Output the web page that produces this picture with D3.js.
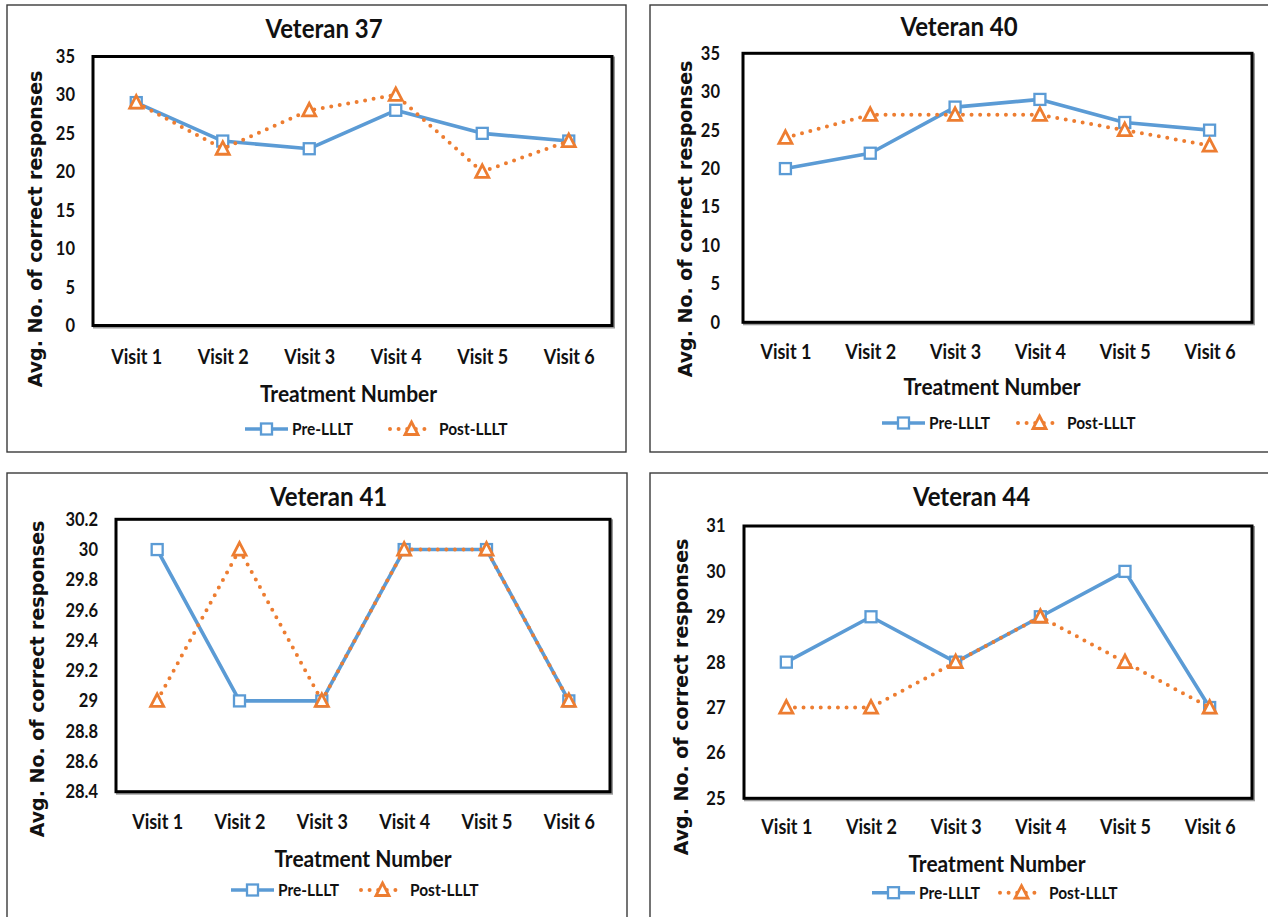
<!DOCTYPE html>
<html>
<head>
<meta charset="utf-8">
<script src="https://cdn.jsdelivr.net/npm/d3@7"></script>
<style>
  body { margin: 0; background: #fff; }
  svg { display: block; }
</style>
</head>
<body>
<svg id="chart" width="1268" height="917"></svg>
<script>
// ---- data ----
const visits = ["Visit 1", "Visit 2", "Visit 3", "Visit 4", "Visit 5", "Visit 6"];
const titles = ["Veteran 37", "Veteran 40", "Veteran 41", "Veteran 44"];
const seriesNames = ["Pre-LLLT", "Post-LLLT"];

const pre37  = [29, 24, 23, 28, 25, 24];
const post37 = [29, 23, 28, 30, 20, 24];
const pre40  = [20, 22, 28, 29, 26, 25];
const post40 = [24, 27, 27, 27, 25, 23];
const pre41  = [30, 29, 29, 30, 30, 29];
const post41 = [29, 30, 29, 30, 30, 29];
const pre44  = [28, 29, 28, 29, 30, 27];
const post44 = [27, 27, 28, 29, 28, 27];

const ticks37 = [0, 5, 10, 15, 20, 25, 30, 35];
const ticks40 = [0, 5, 10, 15, 20, 25, 30, 35];
const ticks41 = [28.4, 28.6, 28.8, 29, 29.2, 29.4, 29.6, 29.8, 30, 30.2];
const ticks44 = [25, 26, 27, 28, 29, 30, 31];

const xTitle = "Treatment Number";
const yTitle = "Avg. No. of correct responses";

// ---- styling ----
const BLUE = "#5B9BD5";
const ORANGE = "#ED7D31";
const INK = "#111";
const FONT = "Lato, 'Liberation Sans', sans-serif";
const YFONT = "'DejaVu Sans', Verdana, sans-serif";
const STRETCH = 1.13;   // slightly tall lettering for the labels

// ---- panel layout ----
const panels = [
  { title: titles[0], pre: pre37, post: post37, ticks: ticks37,
    frame: [7, 5, 619, 447], plot: { l: 93, t: 56.5, r: 612, b: 325.5 },
    titleX: 324, titleY: 28, tickPad: 18, xLabY: 356.7, xTitleX: 348.5, xTitleY: 393,
    yTitleX: 35, yTitleY: 229, legY: 429, legPre: 245, legPost: 390 },
  { title: titles[1], pre: pre40, post: post40, ticks: ticks40,
    frame: [650, 5, 640, 447], plot: { l: 743, t: 53.3, r: 1252, b: 322.3 },
    titleX: 959, titleY: 26.7, tickPad: 23, xLabY: 351.7, xTitleX: 992, xTitleY: 386.7,
    yTitleX: 685, yTitleY: 219, legY: 423, legPre: 882, legPost: 1018 },
  { title: titles[2], pre: pre41, post: post41, ticks: ticks41,
    frame: [7, 473, 620, 460], plot: { l: 116, t: 519.3, r: 610, b: 791.7 },
    titleX: 328.6, titleY: 496.7, tickPad: 18, xLabY: 821.7, xTitleX: 363, xTitleY: 858,
    yTitleX: 37, yTitleY: 679, legY: 890, legPre: 231, legPost: 361 },
  { title: titles[3], pre: pre44, post: post44, ticks: ticks44,
    frame: [650, 473, 640, 460], plot: { l: 744, t: 526, r: 1252, b: 798.3 },
    titleX: 971.5, titleY: 496.7, tickPad: 18.5, xLabY: 826.7, xTitleX: 997, xTitleY: 863,
    yTitleX: 681, yTitleY: 697, legY: 892.7, legPre: 872, legPost: 1000 }
];

const svg = d3.select("#chart");
const tickFmt = d3.format("~g");

// text centred vertically on (x, y), drawn a little taller than wide
function label(sel, x, y, str, size, anchor) {
  return sel.append("text")
    .attr("transform", `translate(${x},${y}) scale(1,${STRETCH})`)
    .attr("dy", "0.36em")
    .attr("text-anchor", anchor || "start")
    .attr("font-family", FONT).attr("font-weight", 700).attr("font-size", size)
    .attr("fill", INK).text(str);
}

function squareMarker(sel, cx, cy) {
  sel.append("rect")
    .attr("x", cx - 5.5).attr("y", cy - 5.5)
    .attr("width", 11).attr("height", 11)
    .attr("fill", "#fff").attr("stroke", BLUE).attr("stroke-width", 2.3);
}
function triangleMarker(sel, cx, cy) {
  sel.append("path")
    .attr("d", `M${cx},${cy - 7} L${cx + 6.5},${cy + 5.5} L${cx - 6.5},${cy + 5.5} Z`)
    .attr("fill", "#fff").attr("stroke", ORANGE).attr("stroke-width", 2.8)
    .attr("stroke-linejoin", "miter");
}

panels.forEach(p => {
  const g = svg.append("g");

  // outer chart frame
  g.append("rect")
    .attr("x", p.frame[0]).attr("y", p.frame[1])
    .attr("width", p.frame[2]).attr("height", p.frame[3])
    .attr("fill", "#fff").attr("stroke", "#3a3a3a").attr("stroke-width", 1.4);

  const x = d3.scalePoint().domain(visits).range([p.plot.l, p.plot.r]).padding(0.5);
  const y = d3.scaleLinear()
    .domain([p.ticks[0], p.ticks[p.ticks.length - 1]])
    .range([p.plot.b, p.plot.t]);

  // plot area border with soft shadow
  g.append("rect")
    .attr("x", p.plot.l + 1.5).attr("y", p.plot.t + 1.5)
    .attr("width", p.plot.r - p.plot.l).attr("height", p.plot.b - p.plot.t)
    .attr("fill", "none").attr("stroke", "#9a9a9a").attr("stroke-width", 3);
  g.append("rect")
    .attr("x", p.plot.l).attr("y", p.plot.t)
    .attr("width", p.plot.r - p.plot.l).attr("height", p.plot.b - p.plot.t)
    .attr("fill", "#fff").attr("stroke", "#000").attr("stroke-width", 3);

  // y axis tick labels
  const yAxis = g.append("g")
    .attr("transform", `translate(${p.plot.l},0)`)
    .call(d3.axisLeft(y).tickValues(p.ticks).tickSize(0).tickPadding(p.tickPad).tickFormat(tickFmt));
  yAxis.select(".domain").remove();
  yAxis.selectAll("text")
    .attr("transform", `scale(1,${STRETCH})`)
    .attr("font-family", FONT).attr("font-weight", 700).attr("font-size", 16.5)
    .attr("fill", INK);

  // x axis category labels
  const xAxis = g.append("g")
    .attr("transform", `translate(0,${p.plot.b})`)
    .call(d3.axisBottom(x).tickSize(0));
  xAxis.select(".domain").remove();
  xAxis.selectAll("text")
    .attr("transform", `scale(1,${STRETCH})`)
    .attr("y", (p.xLabY - p.plot.b) / STRETCH).attr("dy", "0.36em")
    .attr("font-family", FONT).attr("font-weight", 700).attr("font-size", 18)
    .attr("fill", INK);

  // chart title and axis titles
  label(g, p.titleX, p.titleY, p.title, 24, "middle");
  label(g, p.xTitleX, p.xTitleY, xTitle, 21, "middle");
  g.append("text")
    .attr("transform", `translate(${p.yTitleX},${p.yTitleY}) rotate(-90)`)
    .attr("dy", "0.36em")
    .attr("text-anchor", "middle")
    .attr("font-family", YFONT).attr("font-weight", 700).attr("font-size", 19)
    .attr("fill", INK).text(yTitle);

  // series lines
  const line = d3.line().x((d, i) => x(visits[i])).y(d => y(d));
  g.append("path").datum(p.pre)
    .attr("d", line).attr("fill", "none")
    .attr("stroke", BLUE).attr("stroke-width", 3.6).attr("stroke-linejoin", "round");
  p.pre.forEach((v, i) => squareMarker(g, x(visits[i]), y(v)));

  g.append("path").datum(p.post)
    .attr("d", line).attr("fill", "none")
    .attr("stroke", ORANGE).attr("stroke-width", 4)
    .attr("stroke-linecap", "round").attr("stroke-dasharray", "0 8.6");
  p.post.forEach((v, i) => triangleMarker(g, x(visits[i]), y(v)));

  // legend
  const lg = g.append("g");
  const ly = p.legY;
  lg.append("line")
    .attr("x1", p.legPre).attr("x2", p.legPre + 43).attr("y1", ly).attr("y2", ly)
    .attr("stroke", BLUE).attr("stroke-width", 3.6);
  squareMarker(lg, p.legPre + 21.5, ly);
  label(lg, p.legPre + 47, ly, seriesNames[0], 15.5);

  lg.append("line")
    .attr("x1", p.legPost).attr("x2", p.legPost + 43).attr("y1", ly).attr("y2", ly)
    .attr("stroke", ORANGE).attr("stroke-width", 4)
    .attr("stroke-linecap", "round").attr("stroke-dasharray", "0 8.6");
  triangleMarker(lg, p.legPost + 21.5, ly);
  label(lg, p.legPost + 49, ly, seriesNames[1], 15.5);
});
</script>
</body>
</html>
